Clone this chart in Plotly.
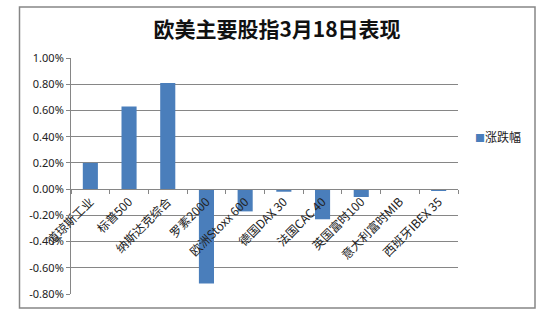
import plotly.graph_objects as go

categories = ["道琼斯工业", "标普500", "纳斯达克综合", "罗素2000", "欧洲Stoxx 600",
              "德国DAX 30", "法国CAC 40", "英国富时100", "意大利富时MIB", "西班牙IBEX 35"]
changes = [0.0020, 0.0063, 0.0081, -0.0072, -0.0017, -0.0002, -0.0023, -0.0006, 0.0, -0.0001]
y_ticks = [-0.008, -0.006, -0.004, -0.002, 0.0, 0.002, 0.004, 0.006, 0.008, 0.010]
y_tick_text = ["-0.80%", "-0.60%", "-0.40%", "-0.20%", "0.00%", "0.20%", "0.40%", "0.60%", "0.80%", "1.00%"]
series_name = "涨跌幅"
title_text = "欧美主要股指3月18日表现"
bar_color = "#4A7EBB"

W, H = 555, 319
L, R, T, B = 71, 97, 58, 25
pw, ph = W - L - R, H - T - B
ymin, ymax = -0.008, 0.010

def px_x(x):
    return (x - L) / pw

def px_y(y):
    return (H - B - y) / ph

fig = go.Figure()
fig.add_trace(go.Bar(
    x=categories, y=changes, name=series_name,
    marker=dict(color=bar_color, line=dict(width=0)),
    showlegend=False,
))

zero_pos = (0 - ymin) / (ymax - ymin)

fig.update_layout(
    width=W, height=H,
    margin=dict(l=L, r=R, t=T, b=B),
    paper_bgcolor="white", plot_bgcolor="white",
    bargap=0.61,
    font=dict(family="Noto Sans CJK SC, Noto Sans", size=11, color="#222222"),
    title=dict(text="<b>" + title_text + "</b>", x=px_x(277), xref="paper", xanchor="center",
               y=1 - 30 / H, yref="container", yanchor="middle",
               font=dict(size=21, color="#111111", family="Noto Sans CJK SC")),
    xaxis=dict(
        type="category", anchor="free", position=zero_pos,
        showline=True, linecolor="#868686", linewidth=1,
        ticks="outside", ticklen=4, tickcolor="#868686", tickson="boundaries",
        tickangle=-45, showgrid=False, zeroline=False,
        tickfont=dict(size=12, color="#222222", family="Noto Sans CJK SC"),
    ),
    yaxis=dict(
        range=[ymin, ymax], tickvals=y_ticks, ticktext=y_tick_text,
        showline=True, linecolor="#868686", linewidth=1,
        ticks="outside", ticklen=4, tickcolor="#868686",
        showgrid=True, gridcolor="#868686", gridwidth=1, zeroline=False,
        tickfont=dict(size=11, color="#222222", family="Noto Sans"),
    ),
    annotations=[dict(
        xref="paper", yref="paper", x=px_x(473), y=px_y(136), xanchor="left", yanchor="middle",
        text="<span style='color:" + bar_color + ";font-size:10px'>■</span>" + series_name,
        showarrow=False, font=dict(size=12, color="#222222", family="Noto Sans CJK SC"),
    )],
    shapes=[dict(type="rect", xref="paper", yref="paper",
                 x0=px_x(19.5), x1=px_x(535), y0=px_y(308), y1=px_y(7),
                 line=dict(color="#868686", width=1.5), fillcolor="rgba(0,0,0,0)", layer="below")],
)

fig.write_html("out.html")
